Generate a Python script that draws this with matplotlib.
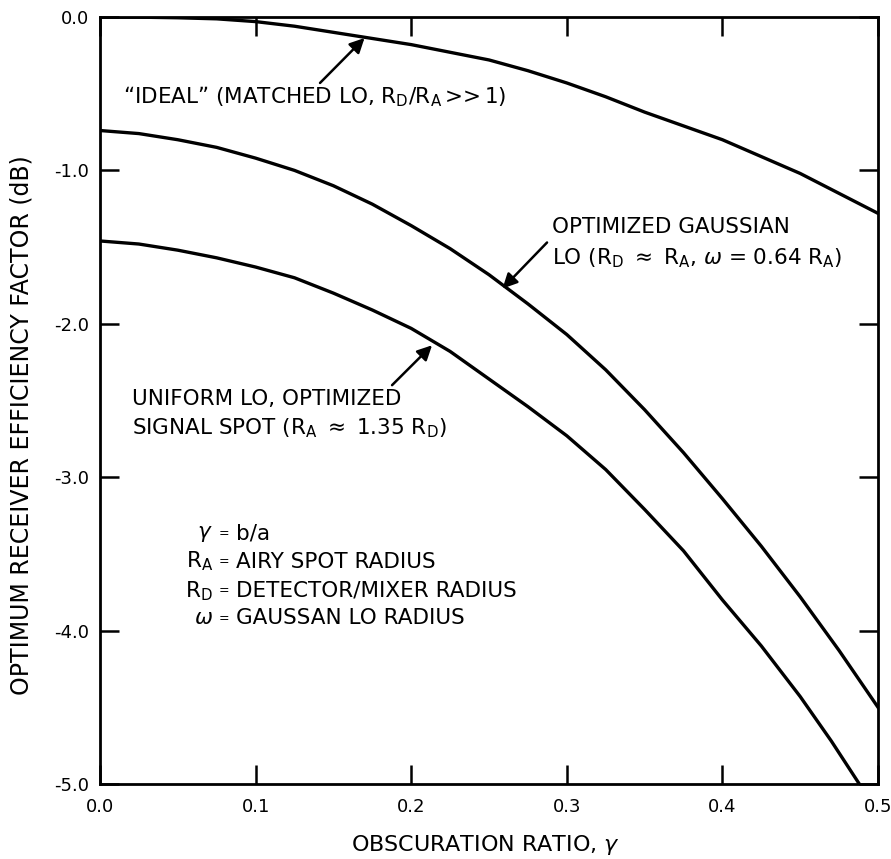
import matplotlib
matplotlib.use("Agg")
import matplotlib.pyplot as plt

plt.rcParams['font.family'] = ['DejaVu Sans']
plt.rcParams['mathtext.fontset'] = 'dejavusans'

# Data
gamma_ideal = [0.0, 0.025, 0.05, 0.075, 0.10, 0.125, 0.15, 0.175, 0.20, 0.225, 0.25, 0.275,
               0.30, 0.325, 0.35, 0.375, 0.40, 0.425, 0.45, 0.475, 0.50]
eff_ideal = [0.0, -0.001, -0.005, -0.012, -0.03, -0.06, -0.10, -0.14, -0.18, -0.23, -0.28, -0.35,
             -0.43, -0.52, -0.62, -0.71, -0.80, -0.91, -1.02, -1.15, -1.28]

gamma_gauss = [0.0, 0.025, 0.05, 0.075, 0.10, 0.125, 0.15, 0.175, 0.20, 0.225, 0.25, 0.275,
               0.30, 0.325, 0.35, 0.375, 0.40, 0.425, 0.45, 0.475, 0.50]
eff_gauss = [-0.74, -0.76, -0.80, -0.85, -0.92, -1.00, -1.10, -1.22, -1.36, -1.51, -1.68, -1.87,
             -2.07, -2.30, -2.56, -2.84, -3.14, -3.45, -3.78, -4.13, -4.50]

gamma_unif = [0.0, 0.025, 0.05, 0.075, 0.10, 0.125, 0.15, 0.175, 0.20, 0.225, 0.25, 0.275,
              0.30, 0.325, 0.35, 0.375, 0.40, 0.425, 0.45, 0.47, 0.488]
eff_unif = [-1.46, -1.48, -1.52, -1.57, -1.63, -1.70, -1.80, -1.91, -2.03, -2.18, -2.36, -2.54,
            -2.73, -2.95, -3.21, -3.48, -3.80, -4.10, -4.43, -4.72, -5.0]

x_ticks = [0.0, 0.1, 0.2, 0.3, 0.4, 0.5]
x_tick_labels = ["0.0", "0.1", "0.2", "0.3", "0.4", "0.5"]
y_ticks = [0.0, -1.0, -2.0, -3.0, -4.0, -5.0]
y_tick_labels = ["0.0", "-1.0", "-2.0", "-3.0", "-4.0", "-5.0"]

W, H = 891, 859
fig = plt.figure(figsize=(W / 100, H / 100), dpi=100)
ax = fig.add_axes([100/W, 1-784/H, 778/W, 767/H])

lw = 2.4
for g, e in [(gamma_ideal, eff_ideal), (gamma_gauss, eff_gauss), (gamma_unif, eff_unif)]:
    ax.plot(g, e, color='black', lw=lw, solid_joinstyle='round', clip_on=True)

ax.set_xlim(0, 0.5)
ax.set_ylim(-5.0, 0.0)
ax.set_xticks(x_ticks)
ax.set_xticklabels(x_tick_labels)
ax.set_yticks(y_ticks)
ax.set_yticklabels(y_tick_labels)
ax.tick_params(direction='in', length=14, width=1.8, labelsize=13, top=True, right=True, pad=8)
ax.tick_params(axis='x', pad=10)
for s in ax.spines.values():
    s.set_linewidth(2.0)

fig.text(485/W, 1-845/H, r"OBSCURATION RATIO, $\gamma$", fontsize=16, ha='center', va='center')
fig.text(22/W, 1-425/H, "OPTIMUM RECEIVER EFFICIENCY FACTOR (dB)", fontsize=17,
         ha='center', va='center', rotation=90)

fs = 15.5
arrow = dict(arrowstyle='-|>', lw=1.8, color='black', mutation_scale=22, shrinkA=0, shrinkB=0)

# Ideal curve annotation
ax.annotate("", xy=(0.170, -0.137), xytext=(0.1414, -0.43), arrowprops=arrow)
ax.text(0.0148, -0.52, r"“IDEAL” (MATCHED LO, R$_\mathrm{D}$/R$_\mathrm{A}$$\,$>>$\,$1)",
        fontsize=fs, va='center', ha='left')

# Gaussian annotation
ax.annotate("", xy=(0.2587, -1.77), xytext=(0.2873, -1.47), arrowprops=arrow)
ax.text(0.2905, -1.37, "OPTIMIZED GAUSSIAN", fontsize=fs, va='center', ha='left')
ax.text(0.2905, -1.57, r"LO (R$_\mathrm{D}$ $\approx$ R$_\mathrm{A}$, $\omega$ = 0.64 R$_\mathrm{A}$)",
        fontsize=fs, va='center', ha='left')

# Uniform annotation
ax.annotate("", xy=(0.2134, -2.14), xytext=(0.1877, -2.40), arrowprops=arrow)
ax.text(0.0206, -2.49, "UNIFORM LO, OPTIMIZED", fontsize=fs, va='center', ha='left')
ax.text(0.0206, -2.68, r"SIGNAL SPOT (R$_\mathrm{A}$ $\approx$ 1.35 R$_\mathrm{D}$)",
        fontsize=fs, va='center', ha='left')

# Definitions
defs_sym = [r"$\gamma$", r"R$_\mathrm{A}$", r"R$_\mathrm{D}$", r"$\omega$"]
defs_txt = ["b/a", "AIRY SPOT RADIUS", "DETECTOR/MIXER RADIUS", "GAUSSAN LO RADIUS"]
def_y = [-3.37, -3.55, -3.74, -3.92]
for sym, txt, yy in zip(defs_sym, defs_txt, def_y):
    ax.text(0.0725, yy, sym, fontsize=fs, va='center', ha='right')
    ax.text(0.0765, yy, "=", fontsize=9, va='center', ha='left')
    ax.text(0.0875, yy, txt, fontsize=fs, va='center', ha='left')

fig.savefig("out.png", dpi=100)
